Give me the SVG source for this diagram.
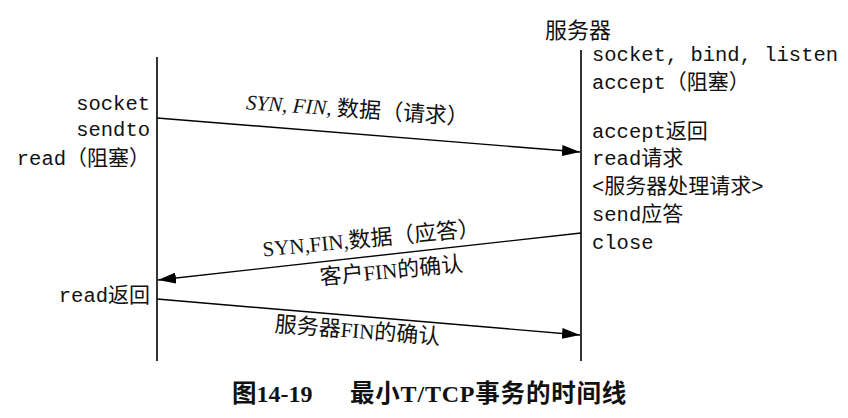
<svg xmlns="http://www.w3.org/2000/svg" width="848" height="418" viewBox="0 0 848 418">
<style>
.bg{fill:#fff}
.life{stroke:#000;stroke-width:1.6;fill:none}
.arrow{stroke:#000;stroke-width:1.4;fill:none;marker-end:url(#ah)}
.mono{font-family:"Liberation Mono","Noto Sans CJK SC",monospace;font-size:20.5px;fill:#111}
.cj{font-family:"Noto Sans CJK SC",sans-serif;font-size:21px}
.lbl{font-family:"Liberation Serif","Noto Sans CJK SC",serif;font-size:21px;fill:#111}
.lbl .cj{font-size:22px}
.it{font-style:italic}
.head{font-family:"Noto Sans CJK SC",sans-serif;font-size:22px;fill:#111}
.cap{font-family:"Liberation Serif","Noto Sans CJK SC",serif;font-size:24px;fill:#111;font-weight:600}
.cap .cj{font-size:24.5px}
</style>
<defs>
<marker id="ah" markerUnits="userSpaceOnUse" markerWidth="18" markerHeight="11" refX="18" refY="5.5" orient="auto">
<path d="M0,0 L18,5.5 L0,11 z" fill="#000"/>
</marker>
</defs>
<rect class="bg" x="0" y="0" width="848" height="418"/>
<g id="client">
<line class="life" x1="157" y1="57" x2="157" y2="361"/>
<text class="mono" x="150" y="110" text-anchor="end">socket</text>
<text class="mono" x="150" y="136" text-anchor="end">sendto</text>
<text class="mono" x="150" y="165" text-anchor="end">read<tspan class="cj" font-size="20px">（阻塞）</tspan></text>
<text class="mono" x="150" y="302" text-anchor="end">read<tspan class="cj">返回</tspan></text>
</g>
<g id="server">
<text class="head" x="545" y="38">服务器</text>
<line class="life" x1="581" y1="50" x2="581" y2="361"/>
<text class="mono" x="592" y="61">socket, bind, listen</text>
<text class="mono" x="592" y="89">accept<tspan class="cj">（阻塞）</tspan></text>
<text class="mono" x="592" y="138">accept<tspan class="cj">返回</tspan></text>
<text class="mono" x="592" y="165">read<tspan class="cj">请求</tspan></text>
<text class="mono" x="592" y="193">&lt;<tspan class="cj">服务器处理请求</tspan>&gt;</text>
<text class="mono" x="592" y="221">send<tspan class="cj">应答</tspan></text>
<text class="mono" x="592" y="249">close</text>
</g>
<g id="connectors">
<line class="arrow" x1="157" y1="118" x2="580" y2="152"/>
<line class="arrow" x1="581" y1="233" x2="158" y2="280"/>
<line class="arrow" x1="157" y1="299" x2="580" y2="335"/>
<text class="lbl" x="357" y="117" text-anchor="middle" transform="rotate(4 357 117)"><tspan class="it">SYN, FIN, </tspan><tspan class="cj">数据（请求）</tspan></text>
<text class="lbl" x="372" y="246" text-anchor="middle" transform="rotate(-5.5 372 246)">SYN,FIN,<tspan class="cj">数据（应答）</tspan></text>
<text class="lbl" x="392" y="278" text-anchor="middle" transform="rotate(-5.5 392 278)"><tspan class="cj">客户</tspan>FIN<tspan class="cj">的确认</tspan></text>
<text class="lbl" x="357" y="338" text-anchor="middle" transform="rotate(4.5 357 338)"><tspan class="cj">服务器</tspan>FIN<tspan class="cj">的确认</tspan></text>
</g>
<g id="caption">
<text class="cap" x="232" y="402"><tspan class="cj">图</tspan>14-19</text>
<text class="cap" x="350" y="402" letter-spacing="0.8"><tspan class="cj">最小</tspan>T/TCP<tspan class="cj">事务的时间线</tspan></text>
</g>
</svg>
